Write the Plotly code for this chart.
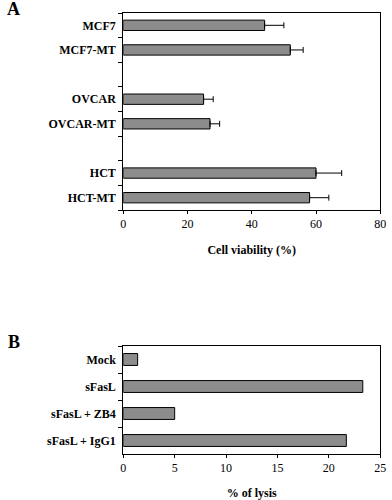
import plotly.graph_objects as go

# Panel A data
a_categories = ["MCF7", "MCF7-MT", " ", "OVCAR", "OVCAR-MT", "  ", "HCT", "HCT-MT"]
a_labels = ["MCF7", "MCF7-MT", "OVCAR", "OVCAR-MT", "HCT", "HCT-MT"]
a_values = [44, 52, 25, 27, 60, 58]
a_errors = [6, 4, 3, 3, 8, 6]
a_ticks = [0, 20, 40, 60, 80]

# Panel B data
b_categories = ["Mock", "sFasL", "sFasL + ZB4", "sFasL + IgG1"]
b_values = [1.4, 23.3, 5.0, 21.7]
b_ticks = [0, 5, 10, 15, 20, 25]

SERIF = "Liberation Serif, Times New Roman, serif"
BAR = "#8c8c8c"

fig = go.Figure()
fig.add_trace(go.Bar(
    x=a_values, y=a_labels, orientation="h", width=0.42,
    marker=dict(color=BAR, line=dict(color="black", width=1)),
    error_x=dict(type="data", array=a_errors, arrayminus=[0] * len(a_errors),
                 symmetric=False, color="black", thickness=1, width=3),
    xaxis="x", yaxis="y", showlegend=False,
))
fig.add_trace(go.Bar(
    x=b_values, y=b_categories, orientation="h", width=0.44,
    marker=dict(color=BAR, line=dict(color="black", width=1)),
    xaxis="x2", yaxis="y2", showlegend=False,
))

common_x = dict(showline=True, linecolor="black", linewidth=1, mirror=True,
                ticks="outside", ticklen=3, tickcolor="black", showgrid=False,
                zeroline=False, ticklabeloverflow="allow",
                tickfont=dict(family=SERIF, size=12, color="black"))
common_y = dict(showline=True, linecolor="black", linewidth=1, mirror=True,
                ticks="outside", ticklen=4, tickcolor="black", showgrid=False,
                type="category", tickson="boundaries", autorange="reversed",
                ticklabelstandoff=4,
                tickfont=dict(family=SERIF, size=12, color="black", weight="bold"))

fig.update_layout(
    width=392, height=500,
    margin=dict(l=0, r=0, t=0, b=0),
    paper_bgcolor="white", plot_bgcolor="white",
    bargap=0.5,
    xaxis=dict(common_x, domain=[0.314, 0.985], range=[0, 80], tickvals=a_ticks,
               anchor="y",
               title=dict(text="Cell viability (%)", standoff=15,
                          font=dict(family=SERIF, size=12, color="black", weight="bold"))),
    yaxis=dict(common_y, domain=[0.58, 0.974], anchor="x",
               categoryorder="array", categoryarray=a_categories,
               tickvals=a_categories),
    xaxis2=dict(common_x, domain=[0.314, 0.985], range=[0, 25], tickvals=b_ticks,
                anchor="y2",
                title=dict(text="% of lysis", standoff=15,
                           font=dict(family=SERIF, size=12, color="black", weight="bold"))),
    yaxis2=dict(common_y, domain=[0.092, 0.308], anchor="x2",
                categoryorder="array", categoryarray=b_categories),
    annotations=[
        dict(text="A", x=2 / 392, y=1 - 9 / 500, xref="paper", yref="paper",
             xanchor="left", yanchor="middle", showarrow=False,
             font=dict(family=SERIF, size=18, color="black", weight="bold")),
        dict(text="B", x=3 / 392, y=1 - 342 / 500, xref="paper", yref="paper",
             xanchor="left", yanchor="middle", showarrow=False,
             font=dict(family=SERIF, size=18, color="black", weight="bold")),
    ],
)

fig.write_html("out.html", config={"displayModeBar": False},
               post_script="document.body.style.margin='0';")
